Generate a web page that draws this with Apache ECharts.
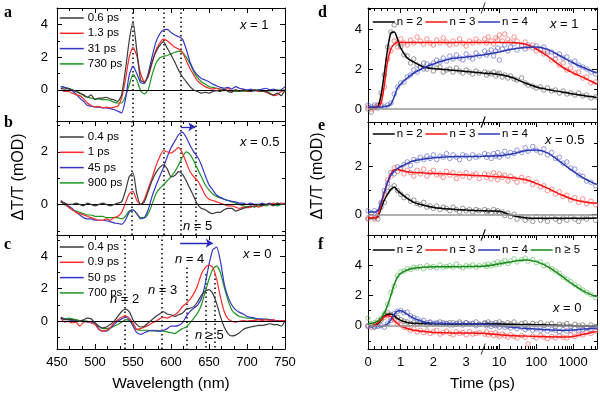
<!DOCTYPE html>
<html>
<head>
<meta charset="utf-8">
<script src="https://cdn.jsdelivr.net/npm/echarts@6/dist/echarts.min.js"></script>
<style>
html, body { margin: 0; padding: 0; background: #fff; }
#chart { width: 600px; height: 393px; }
</style>
</head>
<body>
<div id="chart"></div>
<script>
// ---- spectra (panels a-c), wavelength in nm ----
var wl = [455,460,465,470,475,480,485,490,495,500,505,510,515,520,525,530,535,540,545,550,
  555,560,565,570,575,580,585,590,595,600,605,610,615,620,625,630,635,640,645,650,
  655,660,665,670,675,680,685,690,695,700,705,710,715,720,725,730,735,740,745,750];

// a: x = 1
var aK = [0.1,0.05,0.1,0.0,-0.1,-0.2,-0.3,-0.45,-0.3,-0.6, -0.5,-0.5,-0.45,-0.55,-0.6,-0.7,-0.3,1.2,3.0,4.15,
  2.4,0.6,0.45,0.9,1.7,2.3,2.7,2.95,2.55,2.15, 1.7,1.2,0.8,0.5,0.2,0.0,-0.1,-0.2,-0.15,-0.2,
  -0.1,-0.05,-0.1,0.05,-0.1,-0.15,0.0,-0.1,0.0,-0.05, -0.1,0.0,-0.05,-0.1,-0.1,-0.25,-0.3,-0.2,-0.35,0.0];
var aR = [0.0,-0.1,-0.1,-0.2,-0.3,-0.35,-0.55,-0.8,-0.95,-1.05, -1.0,-1.1,-1.05,-1.1,-1.05,-1.0,-0.5,0.6,2.0,2.6,
  2.1,1.0,0.5,0.8,1.6,2.4,2.85,3.1,3.0,2.8, 2.6,2.5,2.3,1.8,1.3,0.9,0.55,0.35,0.2,0.1,
  0.05,0.1,0.0,-0.05,0.1,-0.1,0.0,-0.05,0.0,-0.1, -0.05,0.0,-0.1,-0.05,-0.15,-0.2,-0.35,-0.3,-0.1,-0.05];
var aB = [0.2,0.15,0.05,-0.05,-0.25,-0.5,-0.7,-0.95,-1.0,-1.05, -1.05,-1.1,-1.1,-1.15,-1.2,-1.3,-1.4,-0.6,0.9,1.45,
  1.0,0.45,0.4,1.0,2.0,2.9,3.4,3.65,3.7,3.5, 3.35,3.25,3.1,2.5,1.7,1.2,0.9,0.7,0.6,0.5,
  0.35,0.25,0.15,0.1,0.15,0.05,0.2,0.1,0.05,0.0, 0.05,-0.05,0.0,0.05,0.1,0.0,0.05,-0.05,0.0,0.2];
var aG = [0.2,0.15,0.1,0.0,-0.05,-0.2,-0.35,-0.45,-0.5,-0.55, -0.55,-0.6,-0.6,-0.65,-0.75,-0.8,-0.8,-0.4,0.3,0.95,
  0.6,-0.05,-0.25,0.0,0.9,1.6,1.95,2.05,2.1,2.2, 2.3,2.35,2.3,2.0,1.6,1.1,0.75,0.5,0.35,0.2,
  0.15,0.1,0.05,0.0,-0.05,-0.05,-0.1,-0.05,-0.1,-0.05, -0.1,-0.05,0.0,-0.05,-0.1,-0.05,-0.05,0.0,-0.05,0.0];

// b: x = 0.5
var bK = [0.1,0.05,0.0,0.0,0.05,0.0,-0.05,0.05,0.0,-0.05, 0.0,0.05,0.0,-0.05,0.0,0.05,0.1,0.5,1.05,1.2,
  0.4,0.0,0.1,0.5,0.9,1.2,1.4,1.5,1.35,1.05, 1.1,1.25,1.15,0.9,0.6,0.3,0.0,-0.15,-0.2,-0.3,
  -0.35,-0.3,-0.3,-0.2,-0.15,-0.15,-0.25,-0.2,-0.15,-0.1, -0.05,-0.1,0.0,-0.05,0.0,0.0,-0.05,0.05,0.0,0.0];
var bR = [0.1,0.05,-0.1,-0.2,-0.3,-0.35,-0.4,-0.45,-0.5,-0.55, -0.6,-0.6,-0.55,-0.6,-0.5,-0.45,-0.3,0.05,0.4,0.5,
  0.15,0.0,0.2,0.6,1.0,1.45,1.8,2.05,2.0,1.95, 2.05,2.17,1.95,1.6,1.25,1.05,0.9,0.65,0.35,0.2,
  0.15,0.1,0.05,0.0,-0.05,-0.05,-0.1,-0.15,-0.1,-0.12, -0.1,-0.05,-0.1,-0.05,0.0,0.0,0.05,0.0,0.05,0.0];
var bB = [0.15,0.05,-0.05,-0.15,-0.3,-0.4,-0.5,-0.55,-0.55,-0.6, -0.6,-0.6,-0.62,-0.65,-0.7,-0.72,-0.75,-0.6,-0.3,-0.2,
  -0.35,-0.55,-0.5,-0.2,0.3,0.7,1.05,1.4,1.8,2.15, 2.4,2.65,2.75,2.55,2.25,2.0,1.8,1.5,1.1,0.75,
  0.55,0.35,0.27,0.2,0.15,0.12,0.1,0.05,0.05,0.0, 0.05,0.0,0.0,0.05,0.0,0.05,0.0,0.05,0.0,0.05];
var bG = [0.1,0.0,-0.1,-0.2,-0.25,-0.3,-0.35,-0.4,-0.4,-0.45, -0.45,-0.45,-0.5,-0.5,-0.5,-0.5,-0.55,-0.45,-0.25,-0.2,
  -0.35,-0.5,-0.5,-0.35,0.0,0.4,0.6,0.75,0.9,1.05, 1.25,1.5,1.8,2.0,1.9,1.65,1.35,1.05,0.75,0.55,
  0.4,0.3,0.25,0.2,0.15,0.1,0.05,0.0,-0.05,-0.1, -0.1,-0.05,-0.05,0.0,-0.05,0.0,0.0,-0.05,0.0,0.0];

// c: x = 0
var cK = [0.2,0.1,0.1,0.1,0.05,0.0,0.1,0.2,0.15,-0.1, -0.3,-0.4,-0.35,-0.2,0.0,0.3,0.6,0.75,0.6,0.1,
  -0.2,-0.35,-0.3,-0.1,0.1,0.3,0.45,0.6,0.45,0.4, 0.3,0.4,0.5,0.75,0.8,0.9,1.2,1.6,1.85,1.95,
  1.7,1.1,0.3,-0.35,-0.75,-0.9,-0.85,-0.7,-0.5,-0.4, -0.35,-0.3,-0.25,-0.25,-0.2,-0.15,-0.2,-0.2,-0.3,0.0];
var cR = [0.2,-0.05,0.0,-0.1,-0.05,-0.3,-0.05,0.0,-0.1,-0.2, -0.5,-0.6,-0.55,-0.4,-0.1,0.1,0.25,0.35,0.2,-0.1,
  -0.5,-0.45,-0.35,-0.25,-0.1,0.0,0.15,0.25,0.2,0.3, 0.4,0.6,0.9,1.1,1.35,1.7,2.2,2.9,3.3,3.45,
  3.3,2.6,1.5,0.6,0.15,0.0,-0.05,0.0,0.05,0.0, 0.05,0.05,0.1,0.05,0.1,0.05,0.1,0.0,0.05,0.05];
var cB = [0.25,0.15,0.1,0.05,0.0,0.0,0.0,-0.05,-0.05,-0.1, -0.45,-0.6,-0.6,-0.45,-0.2,0.0,0.15,0.25,0.1,-0.3,
  -0.7,-0.8,-0.7,-0.6,-0.55,-0.6,-0.6,-0.55,-0.45,-0.3, -0.3,-0.25,-0.1,0.3,0.6,0.8,1.0,1.4,2.3,3.5,
  4.4,4.55,3.7,2.3,1.5,1.0,0.7,0.55,0.45,0.3, 0.25,0.2,0.15,0.15,0.1,0.1,0.05,0.05,0.0,0.0];
var cG = [0.2,0.15,0.2,0.15,0.1,0.05,0.05,0.0,-0.05,-0.1, -0.3,-0.45,-0.45,-0.4,-0.3,-0.2,-0.05,0.1,0.05,-0.2,
  -0.5,-0.55,-0.55,-0.55,-0.6,-0.55,-0.6,-0.6,-0.65,-0.7, -0.75,-0.6,-0.45,-0.35,-0.1,0.2,0.5,1.0,1.8,2.6,
  3.2,3.4,3.0,2.1,1.3,0.7,0.45,0.3,0.25,0.2, 0.2,0.15,0.1,0.1,0.15,0.1,0.05,0.0,0.0,0.0];

// reference lines (nm) and their top value
var dotsA = [[550, null], [590, null], [613, null]];
var dotsB = [[549, null], [590, null], [613, null], [632, null]];
var dotsC = [[539, null], [588, null], [621, 3.3], [646, 2.9], [658, 2.9]];

// ---- kinetics (panels d-f), time in ps ----
var tPts = [0,0.1,0.2,0.3,0.4,0.5,0.6,0.7,0.8,0.9,1.0,1.1,1.2,1.3,1.4,1.5,1.6,1.7,1.8,1.9,2.0,2.1,2.2,2.3,2.4,2.5,2.6,2.7,2.8,2.9,3.0,3.1,3.2,3.3,3.4,
  4,4.5,5,6,7,8,9,10,12,14,17,20,25,30,40,50,60,80,100,130,160,200,260,330,420,530,670,850,1100,1400,1800,2300,3000,4000];
var tFit = [0,0.1,0.2,0.3,0.4,0.5,0.6,0.7,0.8,0.9,1.0,1.2,1.4,1.7,2.0,2.5,3.0,3.5,5,10,20,50,100,200,500,1000,2000,4300];

// d: x = 1
var dK = [0.0,-0.15,0.1,0.2,0.8,1.7,3.1,3.85,4.2,3.3,3.1,2.7,2.65,2.3,2.5,2.2,2.1,2.3,2.0,2.15,1.9,2.05,2.1,1.85,1.95,2.0,1.85,2.05,1.9,1.8,1.95,1.85,1.75,1.9,1.8,
  1.85,1.7,1.8,1.75,1.85,1.65,1.75,1.8,1.6,1.7,1.55,1.65,1.5,1.45,1.55,1.3,1.2,1.15,1.05,1.1,0.95,1.05,0.9,0.95,0.8,0.9,0.75,0.8,0.7,0.8,0.65,0.7,0.55,0.6];
var dR = [0.1,0.0,0.05,0.15,0.25,1.1,2.5,2.9,3.4,3.1,3.5,3.3,3.2,3.45,3.3,3.6,3.4,3.25,3.5,3.3,3.2,3.45,3.3,3.55,3.35,3.2,3.4,3.25,3.5,3.3,3.15,3.4,3.3,3.5,3.35,
  3.5,3.3,3.6,3.4,3.25,3.55,3.45,3.7,3.4,3.75,3.5,3.35,3.6,3.4,3.2,3.35,3.1,3.2,2.9,3.0,2.75,2.8,2.45,2.5,2.2,2.3,1.95,2.05,1.8,1.85,1.55,1.6,1.3,1.35];
var dB = [0.2,0.1,0.2,0.05,0.15,0.1,0.2,0.3,0.75,1.1,1.3,1.35,1.6,1.7,1.95,1.85,2.1,2.0,2.25,2.15,2.3,2.45,2.35,2.55,2.4,2.65,2.5,2.7,2.55,2.45,2.75,2.6,2.5,2.8,2.65,
  2.9,2.7,2.8,2.95,2.65,2.9,3.05,2.45,3.0,3.2,2.9,3.1,3.25,2.95,3.15,3.0,3.2,3.05,3.15,2.95,3.1,2.9,2.85,2.7,2.75,2.55,2.6,2.35,2.4,2.2,2.1,2.0,1.85,1.75];
var dKfit = [0.05,0.05,0.05,0.1,0.7,1.8,3.0,3.8,3.85,3.5,3.05,2.55,2.35,2.1,2.02,1.95,1.88,1.8,1.78,1.72,1.6,1.3,1.1,0.98,0.85,0.75,0.66,0.58];
var dRfit = [0.05,0.05,0.05,0.1,0.3,1.2,2.4,3.0,3.25,3.32,3.33,3.33,3.33,3.33,3.33,3.33,3.33,3.33,3.33,3.33,3.33,3.25,3.0,2.65,2.1,1.8,1.55,1.25];
var dBfit = [0.1,0.1,0.1,0.1,0.1,0.12,0.15,0.25,0.6,1.05,1.25,1.55,1.8,2.05,2.25,2.5,2.6,2.7,2.75,2.85,2.98,3.08,3.1,2.98,2.6,2.3,2.05,1.8];

// e: x = 0.5
var eK = [-0.2,-0.1,-0.15,-0.2,0.3,0.5,0.95,1.1,1.2,1.0,0.85,0.7,0.75,0.55,0.6,0.45,0.4,0.5,0.3,0.35,0.25,0.35,0.2,0.3,0.25,0.15,0.3,0.2,0.1,0.25,0.15,0.2,0.1,0.2,0.15,
  0.2,0.1,0.15,0.05,0.2,0.1,0.15,0.05,0.1,-0.05,0.05,-0.1,0.0,-0.2,-0.1,-0.25,-0.15,-0.3,-0.1,-0.25,-0.15,-0.3,-0.1,-0.2,-0.3,-0.15,-0.25,-0.1,-0.2,-0.3,-0.15,-0.2,-0.1,-0.25];
var eR = [-0.15,-0.1,-0.2,-0.05,0.5,0.85,1.45,1.6,1.95,1.8,1.9,1.7,1.85,1.75,1.6,1.85,1.7,1.9,1.6,1.75,1.85,1.65,1.7,1.55,1.8,1.65,1.75,1.5,1.7,1.6,1.75,1.55,1.65,1.7,1.5,
  1.7,1.55,1.65,1.5,1.75,1.6,1.45,1.7,1.55,1.65,1.4,1.6,1.5,1.35,1.55,1.4,1.5,1.25,1.35,1.15,1.2,1.0,1.05,0.85,0.95,0.75,0.8,0.6,0.7,0.5,0.65,0.45,0.55,0.4];
var eB = [0.15,0.05,0.15,0.1,0.45,1.0,1.3,1.75,1.7,2.0,1.95,2.1,2.2,2.05,2.3,2.25,2.4,2.3,2.45,2.35,2.5,2.3,2.45,2.4,2.55,2.35,2.5,2.4,2.3,2.5,2.45,2.35,2.5,2.4,2.45,
  2.55,2.4,2.5,2.35,2.55,2.45,2.6,2.4,2.5,2.65,2.45,2.6,2.55,2.7,2.6,2.8,2.65,2.85,2.7,2.6,2.75,2.5,2.6,2.35,2.4,2.15,2.2,1.95,1.9,1.65,1.6,1.4,1.35,1.2];
var eKfit = [-0.15,-0.15,-0.15,-0.1,0.25,0.6,0.85,1.05,1.15,1.0,0.88,0.67,0.5,0.38,0.29,0.22,0.18,0.15,0.14,0.13,-0.03,-0.14,-0.17,-0.17,-0.17,-0.17,-0.17,-0.16];
var eRfit = [-0.15,-0.15,-0.15,-0.05,0.4,0.9,1.35,1.7,1.87,1.88,1.85,1.79,1.76,1.74,1.72,1.68,1.65,1.62,1.6,1.58,1.54,1.45,1.3,1.1,0.8,0.62,0.52,0.46];
var eBfit = [0.1,0.1,0.1,0.15,0.5,0.95,1.35,1.65,1.8,1.92,2.0,2.14,2.25,2.32,2.38,2.42,2.43,2.44,2.45,2.46,2.52,2.67,2.7,2.58,2.15,1.8,1.5,1.25];

// f: x = 0
var fK = [0.0,0.05,-0.05,0.2,0.35,0.7,0.85,0.75,0.6,0.55,0.4,0.3,0.25,0.15,0.2,0.1,0.2,0.15,0.05,0.2,0.1,0.15,0.25,0.1,0.15,0.2,0.05,0.15,0.25,0.1,0.2,0.1,0.15,0.25,0.1,
  0.2,0.1,0.25,0.15,0.05,0.2,0.1,0.25,0.15,0.05,0.2,0.1,0.25,0.05,0.15,0.2,0.0,0.15,0.1,0.2,0.0,0.1,0.15,-0.05,0.1,0.05,0.15,-0.05,0.1,0.0,0.05,-0.1,0.05,-0.05];
var fR = [0.0,-0.1,0.1,0.15,0.45,0.55,0.7,0.5,0.4,0.1,0.05,-0.1,-0.15,-0.3,-0.2,-0.4,-0.3,-0.45,-0.35,-0.5,-0.4,-0.3,-0.55,-0.45,-0.35,-0.5,-0.6,-0.4,-0.5,-0.45,-0.6,-0.4,-0.55,-0.5,-0.45,
  -0.55,-0.4,-0.6,-0.5,-0.65,-0.45,-0.6,-0.7,-0.55,-0.65,-0.75,-0.6,-0.7,-0.8,-0.65,-0.75,-1.2,-0.7,-0.8,-0.65,-0.75,-0.85,-0.7,-0.8,-0.65,-0.75,-0.8,-0.6,-0.7,-0.55,-0.6,-0.45,-0.5,-0.35];
var fB = [-0.05,0.0,-0.1,-0.05,0.0,-0.1,0.15,0.35,0.8,0.95,1.0,0.85,0.9,0.65,0.55,0.45,0.3,0.35,0.2,0.25,0.15,0.2,0.1,0.2,0.15,0.05,0.2,0.1,0.15,0.05,0.2,0.1,0.15,0.0,0.1,
  0.15,0.0,0.1,-0.05,0.1,0.0,0.05,-0.1,0.05,-0.1,-0.05,-0.15,-0.05,-0.2,-0.1,-0.25,-0.15,-0.3,-0.2,-0.3,-0.2,-0.35,-0.25,-0.3,-0.4,-0.25,-0.35,-0.3,-0.2,-0.35,-0.25,-0.15,-0.25,-0.1];
var fG = [0.5,0.15,0.2,0.35,0.45,0.8,1.4,2.2,2.6,3.3,3.55,3.6,3.75,3.7,3.85,3.8,3.9,3.75,3.95,3.85,3.9,3.8,4.0,3.85,3.9,3.95,3.85,4.05,3.9,3.8,3.95,3.9,4.0,3.85,3.95,
  4.0,3.9,4.05,3.95,4.1,4.0,4.2,4.05,4.15,4.3,4.1,4.25,4.4,4.2,4.35,4.45,4.25,4.35,4.15,4.2,3.95,4.0,3.75,3.6,3.45,3.2,3.05,2.9,2.7,2.55,2.35,2.2,2.05,1.85];
var fKfit = [0.0,0.0,0.02,0.15,0.38,0.62,0.76,0.78,0.65,0.48,0.35,0.22,0.17,0.14,0.13,0.12,0.12,0.12,0.11,0.11,0.1,0.08,0.07,0.05,0.02,0.0,-0.02,-0.04];
var fRfit = [0.0,0.0,0.05,0.2,0.4,0.58,0.66,0.6,0.35,0.15,-0.02,-0.18,-0.3,-0.38,-0.44,-0.47,-0.48,-0.5,-0.53,-0.59,-0.64,-0.68,-0.7,-0.73,-0.74,-0.7,-0.55,-0.37];
var fBfit = [-0.05,-0.05,-0.05,-0.05,-0.05,0.0,0.12,0.4,0.75,0.97,0.98,0.75,0.5,0.25,0.17,0.14,0.13,0.1,0.06,0.0,-0.08,-0.18,-0.22,-0.27,-0.3,-0.28,-0.22,-0.15];
var fGfit = [0.15,0.15,0.2,0.3,0.5,0.85,1.35,2.0,2.7,3.2,3.45,3.67,3.78,3.85,3.88,3.88,3.89,3.92,3.95,4.07,4.2,4.32,4.22,3.9,3.25,2.7,2.25,1.9];

// time axis ticks
var tMajor = [0, 1, 2, 3, 10, 100, 1000];
var tMajorLabels = ['0', '1', '2', '3', '10', '100', '1000'];
var tMinor = [0.2,0.4,0.6,0.8,1.2,1.4,1.6,1.8,2.2,2.4,2.6,2.8,3.2,3.4,
  4,5,6,7,8,9,20,30,40,50,60,70,80,90,200,300,400,500,600,700,800,900,2000,3000,4000];

// broken time axis: linear to 3.5 ps, log above
var T_BREAK = 3.5, DEC = 1.13;
function u(t) {
  return t <= T_BREAK ? t : T_BREAK + (Math.log10(t) - Math.log10(T_BREAK)) * DEC;
}

var FONT = "'Liberation Sans', Arial, sans-serif";
var COL = { k: '#3a3a3a', r: '#ff2a2a', b: '#3535c8', g: '#1c961c' };
var FITCOL = { k: '#000000', r: '#ff1010', b: '#2a3ab0', g: '#178a17' };
var PTCOL = { k: '#6e6e6e', r: '#ff6464', b: '#6a70d2', g: '#6cc06c' };

var grids = [
  { left: 57, top: 8, width: 228, height: 113 },
  { left: 57, top: 121, width: 228, height: 114 },
  { left: 57, top: 235, width: 228, height: 114 },
  { left: 368, top: 8, width: 229, height: 114 },
  { left: 368, top: 122, width: 229, height: 113 },
  { left: 368, top: 235, width: 229, height: 114 }
];

var specPanels = [
  { names: ['0.6 ps', '1.3 ps', '31 ps', '730 ps'], data: [aK, aR, aB, aG], y: [-1.9, 5.0], major: [0, 2, 4], minor: [-1, 1, 3], dots: dotsA, arrow: null },
  { names: ['0.4 ps', '1 ps', '45 ps', '900 ps'], data: [bK, bR, bB, bG], y: [-1.16, 3.17], major: [0, 2], minor: [-1, 1, 3], dots: dotsB, arrow: [613, 632, 2.95] },
  { names: ['0.4 ps', '0.9 ps', '50 ps', '700 ps'], data: [cK, cR, cB, cG], y: [-1.7, 5.3], major: [0, 2, 4], minor: [-1, 1, 3, 5], dots: dotsC, arrow: [612, 655, 4.8] }
];
var kinPanels = [
  { names: ['n = 2', 'n = 3', 'n = 4'], pts: [dK, dR, dB], fits: [dKfit, dRfit, dBfit], cols: ['k', 'r', 'b'], y: [-0.65, 5.05], major: [0, 2, 4], minor: [1, 3, 5] },
  { names: ['n = 2', 'n = 3', 'n = 4'], pts: [eK, eR, eB], fits: [eKfit, eRfit, eBfit], cols: ['k', 'r', 'b'], y: [-0.87, 3.88], major: [0, 2], minor: [1, 3] },
  { names: ['n = 2', 'n = 3', 'n = 4', 'n ≥ 5'], pts: [fK, fR, fB, fG], fits: [fKfit, fRfit, fBfit, fGfit], cols: ['k', 'r', 'b', 'g'], y: [-1.53, 5.97], major: [0, 2, 4], minor: [-1, 1, 3, 5] }
];

var xAxes = [], yAxes = [], series = [];

function axisBase(gi, min, max, pos, lineOn) {
  return {
    type: 'value', gridIndex: gi, min: min, max: max, position: pos,
    axisLine: { show: lineOn, onZero: false, lineStyle: { color: '#000', width: 1 } },
    splitLine: { show: false },
    axisLabel: { show: false },
    axisTick: { show: false },
    minorTick: { show: false }
  };
}
function ticks(vals, len) {
  return { show: true, inside: true, length: len, customValues: vals, lineStyle: { color: '#000', width: 1 } };
}
function labels(vals, margin, fmt) {
  var l = { show: true, customValues: vals, margin: margin, fontSize: 13, color: '#000', fontFamily: FONT };
  if (fmt) l.formatter = fmt;
  return l;
}
function addX(a) { xAxes.push(a); return xAxes.length - 1; }
function addY(a) { yAxes.push(a); return yAxes.length - 1; }

// y axes (left with labels, right mirror), each with a minor-tick twin
function addYAxes(gi, p, margin) {
  var yl = axisBase(gi, p.y[0], p.y[1], 'left', true);
  yl.axisTick = ticks(p.major, 5);
  yl.axisLabel = labels(p.major, margin);
  var yi = addY(yl);
  var ylm = axisBase(gi, p.y[0], p.y[1], 'left', false);
  ylm.axisTick = ticks(p.minor, 3);
  addY(ylm);
  var yr = axisBase(gi, p.y[0], p.y[1], 'right', true);
  yr.axisTick = ticks(p.major, 5);
  addY(yr);
  var yrm = axisBase(gi, p.y[0], p.y[1], 'right', false);
  yrm.axisTick = ticks(p.minor, 3);
  addY(yrm);
  return yi;
}

var majorU = tMajor.map(u), minorU = tMinor.map(u);
function timeLabel(v) {
  for (var i = 0; i < majorU.length; i++) if (Math.abs(majorU[i] - v) < 1e-6) return tMajorLabels[i];
  return '';
}

// ---- panels a-c ----
specPanels.forEach(function (p, i) {
  var gi = i, last = i === 2;
  var xb = axisBase(gi, 450, 750, 'bottom', true);
  xb.interval = 50;
  if (last) {
    xb.axisTick = { show: true, inside: true, length: 5, lineStyle: { color: '#000' } };
    xb.minorTick = { show: true, splitNumber: 3, length: 3, lineStyle: { color: '#000' } };
    xb.axisLabel = { show: true, margin: 7, fontSize: 13, color: '#000', fontFamily: FONT };
    xb.name = 'Wavelength (nm)';
    xb.nameLocation = 'middle';
    xb.nameGap = 27;
    xb.nameTextStyle = { fontSize: 15.5, color: '#000', fontFamily: FONT };
  }
  var xi = addX(xb);
  var xt = axisBase(gi, 450, 750, 'top', true);
  xt.interval = 50;
  xt.axisTick = { show: true, inside: true, length: 5, lineStyle: { color: '#000' } };
  xt.minorTick = { show: true, splitNumber: 3, length: 3, lineStyle: { color: '#000' } };
  addX(xt);
  var yi = addYAxes(gi, p, 9);

  var keys = ['k', 'r', 'b', 'g'];
  p.data.forEach(function (arr, s) {
    var ser = {
      type: 'line', name: p.names[s], xAxisIndex: xi, yAxisIndex: yi,
      data: wl.map(function (w, k) { return [w, arr[k]]; }),
      symbol: 'none', showSymbol: false, smooth: 0.2,
      lineStyle: { color: COL[keys[s]], width: 1.2 }, itemStyle: { color: COL[keys[s]] },
      z: 5 - s
    };
    if (s === 0) {
      ser.markLine = {
        silent: true, symbol: ['none', 'none'], label: { show: false },
        lineStyle: { color: '#000', width: 1, type: 'solid' },
        data: [{ yAxis: 0 }]
      };
    }
    if (s === 1) {
      ser.markLine = {
        silent: true, symbol: ['none', 'none'], label: { show: false }, z: 1,
        lineStyle: { color: '#000', width: 1.5, type: [1.5, 3] },
        data: p.dots.map(function (d) {
          return [{ coord: [d[0], d[1] === null ? p.y[1] : d[1]] }, { coord: [d[0], p.y[0]] }];
        })
      };
    }
    if (s === 2 && p.arrow) {
      ser.markLine = {
        silent: true, symbol: ['none', 'arrow'], symbolSize: 7, label: { show: false },
        lineStyle: { color: '#2a2ac0', width: 1.3, type: 'solid' },
        data: [[{ coord: [p.arrow[0], p.arrow[2]] }, { coord: [p.arrow[1], p.arrow[2]] }]]
      };
    }
    series.push(ser);
  });
});

// ---- panels d-f ----
kinPanels.forEach(function (p, i) {
  var gi = 3 + i, last = i === 2;
  var xb = axisBase(gi, 0, 7, 'bottom', true);
  if (last) {
    xb.axisTick = ticks(majorU, 5);
    xb.axisLabel = labels(majorU, 7, timeLabel);
    xb.name = 'Time (ps)';
    xb.nameLocation = 'middle';
    xb.nameGap = 27;
    xb.nameTextStyle = { fontSize: 15.5, color: '#000', fontFamily: FONT };
    var xbm = axisBase(gi, 0, 7, 'bottom', false);
    xbm.axisTick = ticks(minorU, 3);
    addX(xbm);
  }
  var xi = addX(xb);
  var xt = axisBase(gi, 0, 7, 'top', true);
  xt.axisTick = ticks(majorU, 5);
  addX(xt);
  var xtm = axisBase(gi, 0, 7, 'top', false);
  xtm.axisTick = ticks(minorU, 3);
  addX(xtm);
  var yi = addYAxes(gi, p, 6);

  p.pts.forEach(function (arr, s) {
    var c = p.cols[s];
    var ser = {
      type: 'scatter', name: 'pts-' + gi + '-' + s, xAxisIndex: xi, yAxisIndex: yi,
      data: tPts.map(function (t, k) { return [u(t), arr[k]]; }),
      symbol: 'circle', symbolSize: 4.5,
      itemStyle: { color: 'rgba(255,255,255,0)', borderColor: PTCOL[c], borderWidth: 0.8, opacity: 0.9 },
      z: 2
    };
    if (s === 0) {
      ser.markLine = {
        silent: true, symbol: ['none', 'none'], label: { show: false },
        lineStyle: { color: '#999', width: 1.5, type: 'solid' },
        data: [{ yAxis: 0 }]
      };
    }
    series.push(ser);
  });
  p.fits.forEach(function (arr, s) {
    var c = p.cols[s];
    series.push({
      type: 'line', name: p.names[s], xAxisIndex: xi, yAxisIndex: yi,
      data: tFit.map(function (t, k) { return [u(t), arr[k]]; }),
      symbol: 'none', showSymbol: false, smooth: 0.3,
      lineStyle: { color: FITCOL[c], width: 1.5 }, itemStyle: { color: FITCOL[c] },
      z: 4
    });
  });
  // axis break marks on top and bottom borders
  series.push({
    type: 'scatter', name: 'break-' + gi, xAxisIndex: xi, yAxisIndex: yi,
    data: [[u(T_BREAK) + 0.02, p.y[0]], [u(T_BREAK) + 0.02, p.y[1]]],
    symbol: 'path://M0,12 L1.4,12 L7,0 L5.6,0 Z', symbolSize: [5, 11],
    itemStyle: { color: '#000' }, clip: false, silent: true, z: 10
  });
});

// ---- legends (line only, no marker) ----
function specLegend(top, names) {
  return {
    left: 59, top: top, orient: 'vertical', selectedMode: false, padding: 0,
    itemWidth: 24, itemHeight: 10, itemGap: 3.3,
    itemStyle: { opacity: 0 }, lineStyle: { width: 1.5 },
    textStyle: { fontSize: 11.5, color: '#000', fontFamily: FONT, padding: [0, 0, 0, -1] },
    data: names
  };
}
function kinLegend(top, names) {
  return {
    left: 372, top: top, orient: 'horizontal', selectedMode: false, padding: 0,
    itemWidth: 22, itemHeight: 10, itemGap: 2,
    itemStyle: { opacity: 0 }, lineStyle: { width: 1.5 },
    textStyle: { fontSize: 11.5, color: '#000', fontFamily: FONT, padding: [0, 0, 0, -3] },
    data: names
  };
}
var legends = [
  specLegend(12, specPanels[0].names),
  specLegend(131, specPanels[1].names),
  specLegend(241, specPanels[2].names),
  kinLegend(16, kinPanels[0].names),
  kinLegend(128, kinPanels[1].names),
  kinLegend(244, kinPanels[2].names)
];

// ---- text annotations ----
function note(x, y, text, size) {
  return {
    type: 'text', x: x, y: y, silent: true,
    style: {
      text: text, fontSize: size || 13, fontFamily: FONT, fill: '#000', verticalAlign: 'middle',
      rich: { i: { fontStyle: 'italic', fontSize: size || 13, fontFamily: FONT, fill: '#000' } }
    }
  };
}
function letter(x, y, s) {
  return {
    type: 'text', x: x, y: y, silent: true,
    style: { text: s, fontSize: 16, fontWeight: 'bold', fontFamily: "'Liberation Serif', 'Times New Roman', serif", fill: '#000', verticalAlign: 'middle' }
  };
}
function yName(x, y) {
  return {
    type: 'text', x: x, y: y, rotation: Math.PI / 2, silent: true,
    style: { text: 'ΔT/T (mOD)', fontSize: 16, fontFamily: FONT, fill: '#000', align: 'center', verticalAlign: 'middle' }
  };
}
var graphics = [
  letter(4, 13, 'a'), letter(4, 123, 'b'), letter(4, 245, 'c'),
  letter(318, 13, 'd'), letter(318, 126, 'e'), letter(318, 245, 'f'),
  yName(19, 177), yName(318, 176),
  note(240, 25, '{i|x} = 1'), note(240, 142, '{i|x} = 0.5'), note(243, 254, '{i|x} = 0'),
  note(550, 24, '{i|x} = 1'), note(545, 140, '{i|x} = 0.5'), note(553, 308, '{i|x} = 0'),
  note(183, 226, '{i|n} = 5'),
  note(110, 299, '{i|n} = 2'), note(148, 290, '{i|n} = 3'), note(175, 259, '{i|n} = 4'), note(195, 335, '{i|n} ≥ 5')
];

var chart = echarts.init(document.getElementById('chart'), null, { renderer: 'canvas' });
chart.setOption({
  animation: false,
  backgroundColor: '#fff',
  textStyle: { fontFamily: FONT },
  grid: grids,
  xAxis: xAxes,
  yAxis: yAxes,
  legend: legends,
  series: series,
  graphic: graphics
});
</script>
</body>
</html>
